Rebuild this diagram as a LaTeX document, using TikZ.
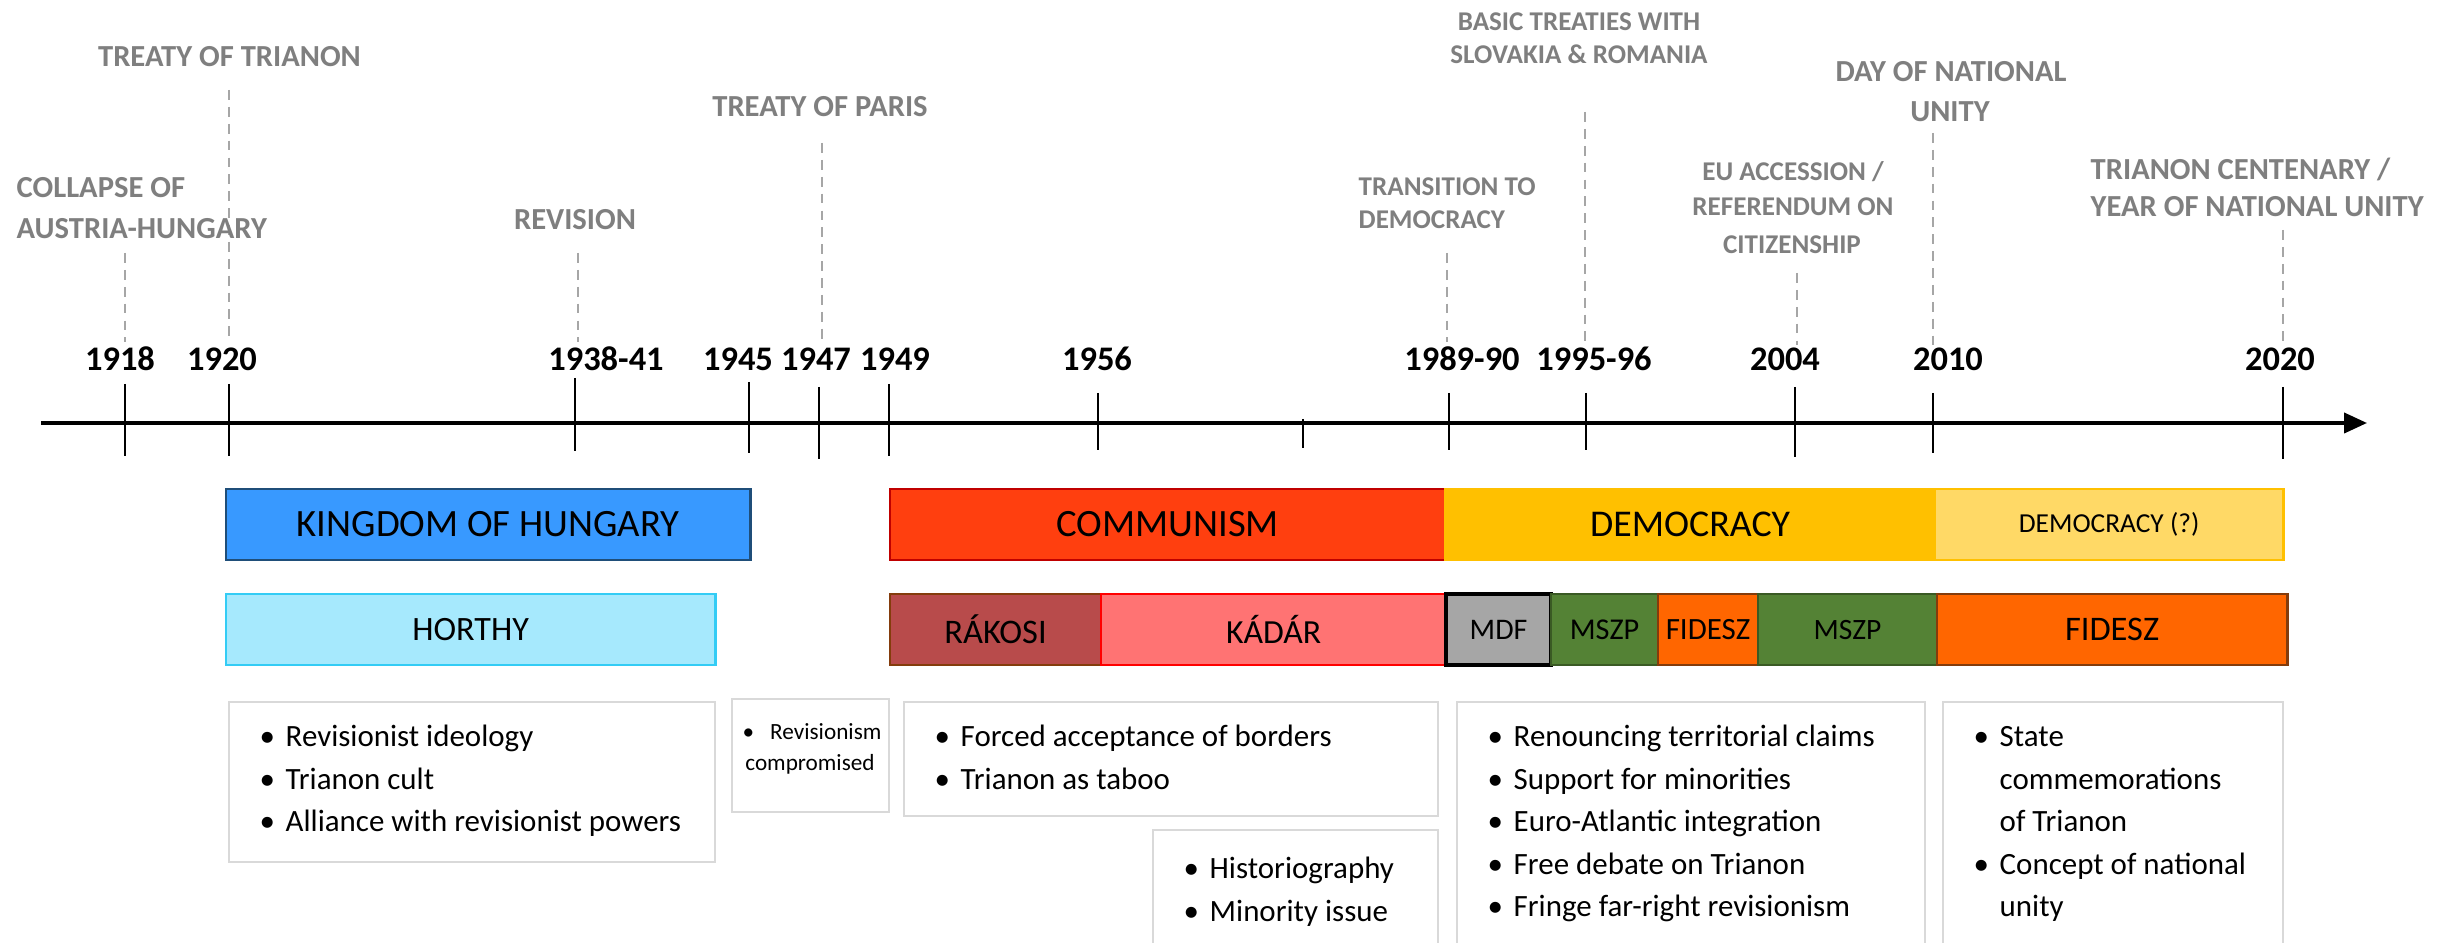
\documentclass[tikz,border=0pt]{standalone}
\usepackage{fontspec}
\setmainfont{Carlito}
\usetikzlibrary{arrows.meta}
\definecolor{kohfill}{HTML}{3899FF}
\definecolor{kohdraw}{HTML}{1F4E79}
\definecolor{horfill}{HTML}{A6E9FD}
\definecolor{hordraw}{HTML}{33CCF5}
\definecolor{comfill}{HTML}{FF3F0F}
\definecolor{comdraw}{HTML}{C00000}
\definecolor{demfill}{HTML}{FFC000}
\definecolor{dqfill}{HTML}{FFD966}
\definecolor{rakfill}{HTML}{B84B4B}
\definecolor{rakdraw}{HTML}{843C0C}
\definecolor{kadfill}{HTML}{FF7373}
\definecolor{kaddraw}{HTML}{FF0000}
\definecolor{mdffill}{HTML}{A6A6A6}
\definecolor{mszfill}{HTML}{548235}
\definecolor{mszdraw}{HTML}{3A5A24}
\definecolor{fidfill}{HTML}{FF6600}
\definecolor{boxgrey}{HTML}{D9D9D9}
\definecolor{evgrey}{HTML}{7F7F7F}
\definecolor{guidegrey}{HTML}{A6A6A6}
\newcommand{\bt}[1]{\makebox[0.26cm][l]{\textbullet}#1}
\newcommand{\ct}[1]{\hspace*{0.26cm}#1}
\tikzset{
  yr/.style={font=\fontsize{9.8}{12}\selectfont\bfseries, anchor=base, inner sep=0pt},
  evbig/.style={font=\fontsize{8.7}{10}\selectfont\bfseries, text=evgrey, anchor=base, inner sep=0pt},
  evsmall/.style={font=\fontsize{7.7}{9}\selectfont\bfseries, text=evgrey, anchor=base, inner sep=0pt},
  tickline/.style={draw=black, line width=0.7pt},
  guide/.style={draw=guidegrey, line width=0.45pt, dash pattern=on 2.8pt off 2pt},
  period/.style={draw, line width=0.8pt, inner sep=0pt, outer sep=0pt, anchor=north west, minimum height=0.71cm},
  bbox/.style={draw=boxgrey, line width=0.6pt, inner sep=0pt, outer sep=0pt, anchor=north west},
  btext/.style={font=\fontsize{8.8}{12}\selectfont, anchor=base west, inner sep=0pt},
  smalltext/.style={font=\fontsize{6.6}{8.8}\selectfont, anchor=base, inner sep=0pt}
}
\begin{document}
\begin{tikzpicture}[x=0.01cm, y=-0.01cm]
\useasboundingbox (0,0) rectangle (2453,943);
\clip (0,0) rectangle (2453,943);
\fill[white] (0,0) rectangle (2453,943);

% dashed guides
\foreach \n/\x/\a/\b in {1918/125/253/342, 1920/229/90/343, 1938/578/253/342, 1947/822/143/340,
  1989/1447/253/342, 1995/1585/112/347, 2004/1797/273/345, 2010/1933/133/345, 2020/2283/230/342}{
  \coordinate (g\n a) at (\x,\a);
  \coordinate (g\n b) at (\x,\b);
  \draw[guide] (g\n a) -- (g\n b);
}

% axis
\coordinate (axs) at (41,423);
\coordinate (axe) at (2367,423);
\draw[line width=1pt, -{Triangle[length=6.5pt,width=5.7pt]}] (axs) -- (axe);

% ticks
\foreach \n/\x/\a/\b in {1918/125/384/456, 1920/229/384/456, 1938/575/378/451, 1945/749/382/453,
  1947/819/387/459, 1949/889/384/456, 1956/1098/393/450, 1975/1303/419/448, 1989/1449/393/450,
  1995/1586/393/450, 2004/1795/387/457, 2010/1933/393/453, 2020/2283/387/459}{
  \coordinate (t\n a) at (\x,\a);
  \coordinate (t\n b) at (\x,\b);
  \draw[tickline] (t\n a) -- (t\n b);
}

% year labels
\foreach \n/\x/\l in {1918/120/1918, 1920/222/1920, 1938/606/1938-41, 1945/738/1945, 1947/816/1947,
  1949/895/1949, 1956/1097/1956, 1989/1462/1989-90, 1995/1594/1995-96, 2004/1785/2004,
  2010/1948/2010, 2020/2280/2020}{
  \node[yr] (y\n) at (\x,371) {\l};
}

% event labels
\node[evbig] (ev1920) at (229.5,67) {TREATY OF TRIANON};
\node[evbig, anchor=base west] (ev1918a) at (16,198) {COLLAPSE OF};
\node[evbig, anchor=base west] (ev1918b) at (16,239) {AUSTRIA-HUNGARY};
\node[evbig] (ev1938) at (575,230) {REVISION};
\node[evbig] (ev1947) at (820,117) {TREATY OF PARIS};
\node[evsmall, anchor=base west] (ev1989a) at (1358,196) {TRANSITION TO};
\node[evsmall, anchor=base west] (ev1989b) at (1358,229) {DEMOCRACY};
\node[evsmall] (ev1995a) at (1579,31) {BASIC TREATIES WITH};
\node[evsmall] (ev1995b) at (1579,64) {SLOVAKIA \& ROMANIA};
\node[evsmall] (ev2004a) at (1793,181) {EU ACCESSION /};
\node[evsmall] (ev2004b) at (1793,216) {REFERENDUM ON};
\node[evsmall] (ev2004c) at (1792,254) {CITIZENSHIP};
\node[evbig] (ev2010a) at (1951,82) {DAY OF NATIONAL};
\node[evbig] (ev2010b) at (1950,122) {UNITY};
\node[evbig, anchor=base west] (ev2020a) at (2090,180) {TRIANON CENTENARY /};
\node[evbig, anchor=base west] (ev2020b) at (2090,217) {YEAR OF NATIONAL UNITY};

% period boxes row 1
\node[period, fill=kohfill, draw=kohdraw, minimum width=5.24cm, font=\fontsize{11}{13}\selectfont] (koh) at (226,489) {KINGDOM OF HUNGARY};
\node[period, fill=comfill, draw=comdraw, minimum width=5.55cm, font=\fontsize{11}{13}\selectfont] (com) at (890,489) {COMMUNISM};
\node[period, fill=demfill, draw=demfill, minimum width=4.90cm, font=\fontsize{10.75}{13}\selectfont] (dem) at (1445,489) {DEMOCRACY};
\node[period, fill=dqfill, draw=demfill, minimum width=3.48cm, font=\fontsize{7.8}{10}\selectfont] (dq) at (1935,489) {DEMOCRACY (?)};

% period boxes row 2
\node[period, fill=horfill, draw=hordraw, minimum width=4.89cm, font=\fontsize{9.7}{12}\selectfont] (hor) at (226,594) {HORTHY};
\node[period, fill=rakfill, draw=rakdraw, minimum width=2.11cm, font=\fontsize{9.8}{12}\selectfont] (rak) at (890,594) {RÁKOSI};
\node[period, fill=kadfill, draw=kaddraw, minimum width=3.45cm, font=\fontsize{9.6}{12}\selectfont] (kad) at (1101,594) {KÁDÁR};
\node[period, fill=mdffill, draw=black, line width=1.2pt, minimum width=1.05cm, font=\fontsize{8.5}{10}\selectfont] (mdf) at (1446,594) {MDF};
\node[period, fill=mszfill, draw=mszdraw, minimum width=1.07cm, font=\fontsize{8.6}{10}\selectfont] (msz1) at (1551,594) {MSZP};
\node[period, fill=fidfill, draw=rakdraw, minimum width=1.00cm, font=\fontsize{8.8}{10}\selectfont] (fid1) at (1658,594) {FIDESZ};
\node[period, fill=mszfill, draw=mszdraw, minimum width=1.79cm, font=\fontsize{8.4}{10}\selectfont] (msz2) at (1758,594) {MSZP};
\node[period, fill=fidfill, draw=rakdraw, minimum width=3.50cm, font=\fontsize{9.8}{12}\selectfont] (fid2) at (1937,594) {FIDESZ};

% bullet boxes
\node[bbox, minimum width=4.86cm, minimum height=1.60cm] (hbox) at (229,702) {};
\node[bbox, minimum width=1.57cm, minimum height=1.13cm] (rbox) at (732,699) {};
\node[bbox, minimum width=5.34cm, minimum height=1.14cm] (cbox) at (904,702) {};
\node[bbox, minimum width=2.85cm, minimum height=1.40cm] (hibox) at (1153,830) {};
\node[bbox, minimum width=4.68cm, minimum height=2.60cm] (dbox) at (1457,702) {};
\node[bbox, minimum width=3.40cm, minimum height=2.60cm] (fbox) at (1943,702) {};

% bullet texts
\foreach \t [count=\i] in {Revisionist ideology, Trianon cult, Alliance with revisionist powers}
  \node[btext] (h\i) at (259,{747+(\i-1)*42.5}) {\bt{\t}};
\node[smalltext] (r1) at (812,739.5) {\textbullet\hspace{0.16cm}Revisionism};
\node[smalltext] (r2) at (810,770.5) {compromised};
\foreach \t [count=\i] in {Forced acceptance of borders, Trianon as taboo}
  \node[btext] (c\i) at (934,{747+(\i-1)*42.5}) {\bt{\t}};
\foreach \t [count=\i] in {Historiography, Minority issue}
  \node[btext] (hi\i) at (1183,{879+(\i-1)*42.5}) {\bt{\t}};
\foreach \t [count=\i] in {Renouncing territorial claims, Support for minorities, Euro-Atlantic integration, Free debate on Trianon, Fringe far-right revisionism}
  \node[btext] (d\i) at (1487,{747+(\i-1)*42.5}) {\bt{\t}};
\foreach \t [count=\i] in {\bt{State}, \ct{commemorations}, \ct{of Trianon}, \bt{Concept of national}, \ct{unity}}
  \node[btext] (f\i) at (1973,{747+(\i-1)*42.5}) {\t};
\end{tikzpicture}
\end{document}
